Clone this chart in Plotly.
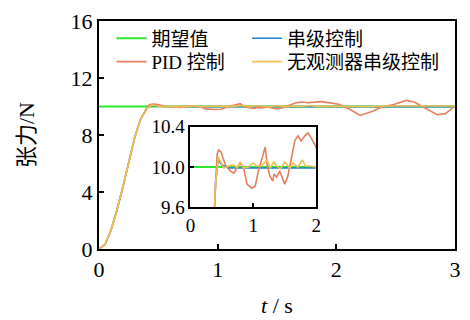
import plotly.graph_objects as go

# ---- data ----
t_rise = [0, 0.05, 0.1, 0.15, 0.2, 0.25, 0.3, 0.35, 0.4]
v_rise = [0, 0.3, 1.3, 2.7, 4.3, 6.0, 7.8, 9.1, 9.85]

t_ref = [0, 3]
v_ref = [10, 10]

t_pid = [0.425, 0.45, 0.485, 0.556, 0.635, 0.69, 0.74, 0.79, 0.85, 0.9, 0.976, 1.03, 1.08,
         1.15, 1.19, 1.22, 1.265, 1.31, 1.33, 1.37, 1.42, 1.5, 1.55, 1.61, 1.66, 1.71, 1.76,
         1.82, 1.87, 1.92, 1.99, 2.02, 2.11, 2.2, 2.3, 2.38, 2.49, 2.59, 2.66, 2.77, 2.85,
         2.92, 3.0]
v_pid = [10.13, 10.17, 10.15, 10.02, 9.96, 9.94, 9.99, 10.04, 9.98, 9.83, 9.79, 9.81, 9.96,
         10.10, 10.20, 10.02, 9.91, 9.86, 9.93, 9.90, 9.96, 9.83, 9.91, 10.10, 10.26, 10.31, 10.26,
         10.31, 10.34, 10.29, 10.21, 10.16, 9.82, 9.37, 9.65, 9.95, 10.16, 10.43, 10.30, 9.82, 9.42,
         9.50, 10.05]

t_cas = [0.44, 0.5, 0.6, 0.8, 1.0, 1.2, 1.4, 1.6, 1.8, 2.0, 2.3, 2.6, 3.0]
v_cas = [10.08, 10.02, 9.99, 9.99, 9.99, 9.99, 9.99, 9.99, 9.99, 9.99, 9.99, 9.99, 9.99]

t_nob = [0.445, 0.48, 0.53, 0.6, 0.69, 0.74, 0.79, 0.85, 0.92, 1.0, 1.05, 1.13, 1.22, 1.27,
         1.32, 1.37, 1.43, 1.5, 1.58, 1.63, 1.71, 1.78, 1.83, 1.91, 1.98, 2.1, 2.3, 2.5, 2.7,
         2.9, 3.0]
v_nob = [10.10, 10.05, 9.99, 10.01, 10.02, 9.99, 10.05, 9.99, 10.0, 10.04, 10.01, 10.01, 10.07,
         9.99, 10.05, 10.01, 9.98, 10.05, 9.99, 10.04, 10.0, 10.07, 10.01, 10.01, 10.0, 10.03,
         10.0, 10.04, 10.02, 10.05, 10.03]

names = ["期望值", "串级控制", "PID 控制", "无观测器串级控制"]
colors = ["#2ee82e", "#1f7fd2", "#e5805f", "#f2bf50"]

x_ticks = [0, 1, 2, 3]
y_ticks = [0, 4, 8, 12, 16]
x_ticks_in = [0, 1, 2]
y_ticks_in = [9.6, 10.0, 10.4]

FONT = "Liberation Serif, Times New Roman, Noto Sans CJK SC, serif"

series = [
    (t_ref, v_ref),
    (t_rise + t_cas, v_rise + v_cas),
    (t_rise + t_pid, v_rise + v_pid),
    (t_rise + t_nob, v_rise + v_nob),
]
legend_ids = ["legend", "legend2", "legend3", "legend4"]
# legend positions (paper coords): col 1 / col 2, row 1 / row 2
legend_pos = [(0.035, 0.924), (0.416, 0.924), (0.035, 0.821), (0.416, 0.821)]

fig = go.Figure()
for i, (tt, vv) in enumerate(series):
    w = 2 if i == 0 else 1.6
    fig.add_trace(go.Scatter(x=tt, y=vv, mode="lines", name=names[i],
                             line=dict(color=colors[i], width=w), legend=legend_ids[i],
                             xaxis="x", yaxis="y"))
for i, (tt, vv) in enumerate(series):
    w = 2 if i == 0 else 1.6
    fig.add_trace(go.Scatter(x=tt, y=vv, mode="lines", name=names[i], showlegend=False,
                             line=dict(color=colors[i], width=w),
                             xaxis="x2", yaxis="y2"))

axis_common = dict(showline=True, linecolor="black", linewidth=2, mirror=True,
                   ticks="inside", tickcolor="black", tickwidth=2, showgrid=False,
                   zeroline=False)

legends = {}
for i, lid in enumerate(legend_ids):
    lx, ly = legend_pos[i]
    legends[lid] = dict(x=lx, y=ly, xanchor="left", yanchor="middle",
                        bgcolor="rgba(0,0,0,0)", font=dict(size=19))

fig.update_layout(
    width=470, height=320,
    margin=dict(l=99, r=9, t=14, b=71),
    paper_bgcolor="white", plot_bgcolor="white",
    font=dict(family=FONT, color="black", size=21),
    xaxis=dict(range=[0, 3], tickvals=x_ticks, ticklen=5, domain=[0, 1],
               tickfont=dict(size=22), **axis_common),
    yaxis=dict(range=[0, 16], tickvals=y_ticks, ticklen=5, domain=[0, 1],
               tickfont=dict(size=22), **axis_common),
    xaxis2=dict(range=[0, 2], tickvals=x_ticks_in, ticklen=4, anchor="y2",
                domain=[0.257, 0.61], tickfont=dict(size=19), **axis_common),
    yaxis2=dict(range=[9.6, 10.4], tickvals=y_ticks_in, tickformat=".1f", ticklen=4,
                anchor="x2", domain=[0.183, 0.536], tickfont=dict(size=19), **axis_common),
    showlegend=True,
    annotations=[
        dict(text="张力/N", textangle=-90, xref="paper", yref="paper", x=0, y=0.5,
             xanchor="center", yanchor="middle", xshift=-73, showarrow=False,
             font=dict(size=22)),
        dict(text="<i>t</i> / s", xref="paper", yref="paper", x=0.5, y=0,
             xanchor="center", yanchor="middle", yshift=-56, showarrow=False,
             font=dict(size=22)),
    ],
    **legends,
)

fig.write_html("out.html", config={"displayModeBar": False},
               post_script="document.body.style.margin='0';document.body.style.padding='0';")
